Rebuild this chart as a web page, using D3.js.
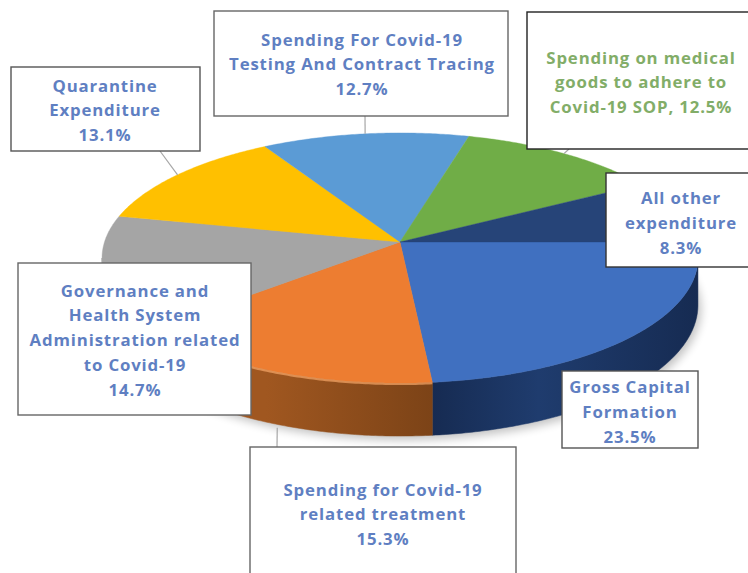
<!DOCTYPE html>
<html>
<head>
<meta charset="utf-8">
<script src="https://cdn.jsdelivr.net/npm/d3@7/dist/d3.min.js"></script>
<style>
html,body{margin:0;padding:0;background:#fff;overflow:hidden}
svg{display:block}
text{font-family:"Open Sans",sans-serif;font-weight:700;font-size:16.8px;letter-spacing:.85px;text-anchor:middle;dominant-baseline:central}
</style>
</head>
<body>
<svg id="chart" width="748" height="573"></svg>
<script>
// Shares of Covid-19 spending, clockwise from the three o'clock position
const categories = ["Gross Capital Formation","Spending for Covid-19 related treatment","Governance and Health System Administration related to Covid-19","Quarantine Expenditure","Spending For Covid-19 Testing And Contract Tracing","Spending on medical goods to adhere to Covid-19 SOP","All other expenditure"];
const shares = [23.5,15.3,14.7,13.1,12.7,12.5,8.3];
const topColors = ["#4070c0","#ed7d31","#a5a5a5","#ffc000","#5b9bd5","#70ad47","#264478"];
const wallLight = ["#1f3c6e","#a05720","#8f8f8f","#b58a00","#3f6f9c","#4f7d32","#1b3157"];
const wallDark = ["#162b52","#7c4317","#777777","#8a6a00","#2f5478","#3b5e25","#142544"];
const labelLines = [
  ["Gross Capital","Formation","23.5%"],
  ["Spending for Covid-19","related treatment","15.3%"],
  ["Governance and","Health System","Administration related","to Covid-19","14.7%"],
  ["Quarantine","Expenditure","13.1%"],
  ["Spending For Covid-19","Testing And Contract Tracing","12.7%"],
  ["Spending on medical","goods to adhere to","Covid-19 SOP, 12.5%"],
  ["All other","expenditure","8.3%"]
];
const labelInk = ["#5f7fc2","#5f7fc2","#5f7fc2","#5f7fc2","#5f7fc2","#82ad68","#5f7fc2"];

// Callout boxes: left, top, right, bottom, text centre, first line centre, line step,
// border colour and where the leader leaves the box (null when there is none)
const callouts = [
  {box:[562,371,698,448], cx:630, first:386, step:25, edge:"#555", leaderFrom:null},
  {box:[250,447,516,580], cx:383, first:489, step:24.5, edge:"#666", leaderFrom:[277,447], onBase:true},
  {box:[18,263,251,415], cx:135, first:290, step:24.8, edge:"#666", leaderFrom:null},
  {box:[11,67,200,151], cx:105, first:85, step:24.5, edge:"#555", leaderFrom:[160,151]},
  {box:[214,11,508,116], cx:362, first:39, step:24.5, edge:"#666", leaderFrom:[365,116]},
  {box:[527,12,752,149], cx:641, first:57, step:24.5, edge:"#222", leaderFrom:[569,149]},
  {box:[606,173,752,267], cx:681, first:197, step:25, edge:"#333", leaderFrom:null}
];

// Perspective disc: the hub sits above the centre of the visible ellipse
const hub = {x:400, y:242};
const radiusX = 295.5, radiusY = 123, tilt = 0.128, thickness = 46.2;
const rimX = a => hub.x + radiusX * Math.sin(a) / (1 + tilt * Math.cos(a));
const rimY = a => hub.y - radiusY * Math.cos(a) / (1 + tilt * Math.cos(a));
const drop = a => thickness / (1 + tilt * Math.cos(a));

const pie = d3.pie().sort(null).startAngle(Math.PI / 2).endAngle(Math.PI * 2.5);
const arcs = pie(shares);

const svg = d3.select("#chart");
const defs = svg.append("defs");
defs.append("filter").attr("id","soft").attr("x","-10%").attr("y","-20%").attr("width","120%").attr("height","140%")
  .append("feGaussianBlur").attr("stdDeviation",5);

const line = d3.line().curve(d3.curveLinear);
const sweep = (a0, a1) => {
  const n = Math.max(2, Math.ceil(Math.abs(a1 - a0) / 0.01));
  return d3.range(n + 1).map(i => a0 + (a1 - a0) * i / n);
};

// Soft shadow under the base
const whole = sweep(0, Math.PI * 2);
svg.append("path")
  .attr("d", line(whole.map(a => [rimX(a) + 3, rimY(a) + drop(a) + 4])) + "Z")
  .attr("fill", "#000").attr("opacity", 0.24).attr("filter", "url(#soft)");

// Side wall of each slice, only the part that faces the viewer
const wallStart = Math.acos(-tilt), wallEnd = Math.PI * 2 - wallStart;
const walls = arcs.map((d, i) => {
  const from = Math.max(d.startAngle, wallStart), to = Math.min(d.endAngle, wallEnd);
  return {i, from, to};
}).filter(w => w.to > w.from);

walls.forEach(w => {
  const id = "wall" + w.i;
  const x0 = rimX(w.from), x1 = rimX(w.to);
  const g = defs.append("linearGradient").attr("id", id)
    .attr("gradientUnits","userSpaceOnUse").attr("x1", x0).attr("x2", x1).attr("y1",0).attr("y2",0);
  g.append("stop").attr("offset",0).attr("stop-color", wallDark[w.i]);
  g.append("stop").attr("offset",0.6).attr("stop-color", wallLight[w.i]);
  g.append("stop").attr("offset",1).attr("stop-color", w.i === 1 ? wallLight[w.i] : wallDark[w.i]);
  const angles = sweep(w.from, w.to);
  const pts = angles.map(a => [rimX(a), rimY(a)])
    .concat(angles.slice().reverse().map(a => [rimX(a), rimY(a) + drop(a)]));
  svg.append("path").attr("d", line(pts) + "Z").attr("fill", `url(#${id})`)
    .attr("stroke", `url(#${id})`).attr("stroke-width", 0.5);
});

// Top face
svg.append("g").selectAll("path").data(arcs).join("path")
  .attr("d", d => line([[hub.x, hub.y]].concat(sweep(d.startAngle, d.endAngle).map(a => [rimX(a), rimY(a)]))) + "Z")
  .attr("fill", (d, i) => topColors[i])
  .attr("stroke", (d, i) => topColors[i]).attr("stroke-width", 0.4);

// Bevel highlight on the orange rim
svg.append("path")
  .attr("d", line(sweep(arcs[1].startAngle, arcs[1].endAngle).map(a => [rimX(a), rimY(a) + 1])))
  .attr("fill","none").attr("stroke","#f6a768").attr("stroke-width",2).attr("opacity",0.7);

// Leaders run from each box to the rim at the middle of the slice
const mid = d => (d.startAngle + d.endAngle) / 2;
svg.append("g").selectAll("line").data(callouts.map((c, i) => ({c, d: arcs[i]})).filter(o => o.c.leaderFrom))
  .join("line")
  .attr("x1", o => o.c.leaderFrom[0]).attr("y1", o => o.c.leaderFrom[1])
  .attr("x2", o => rimX(mid(o.d)) + (o.c.onBase ? 3 : 0))
  .attr("y2", o => rimY(mid(o.d)) + (o.c.onBase ? drop(mid(o.d)) + 4 : 0))
  .attr("stroke","#a6a6a6").attr("stroke-width",1.2);

// Callout boxes and their text
const group = svg.append("g").selectAll("g").data(callouts).join("g");
group.append("rect")
  .attr("x", c => c.box[0]).attr("y", c => c.box[1])
  .attr("width", c => c.box[2] - c.box[0]).attr("height", c => c.box[3] - c.box[1])
  .attr("fill","#fff").attr("stroke", c => c.edge).attr("stroke-width",1.4);
group.each(function(c, i) {
  d3.select(this).selectAll("text").data(labelLines[i]).join("text")
    .attr("x", c.cx)
    .attr("y", (t, k) => c.first + k * c.step)
    .attr("fill", labelInk[i])
    .text(t => t);
});
</script>
</body>
</html>
